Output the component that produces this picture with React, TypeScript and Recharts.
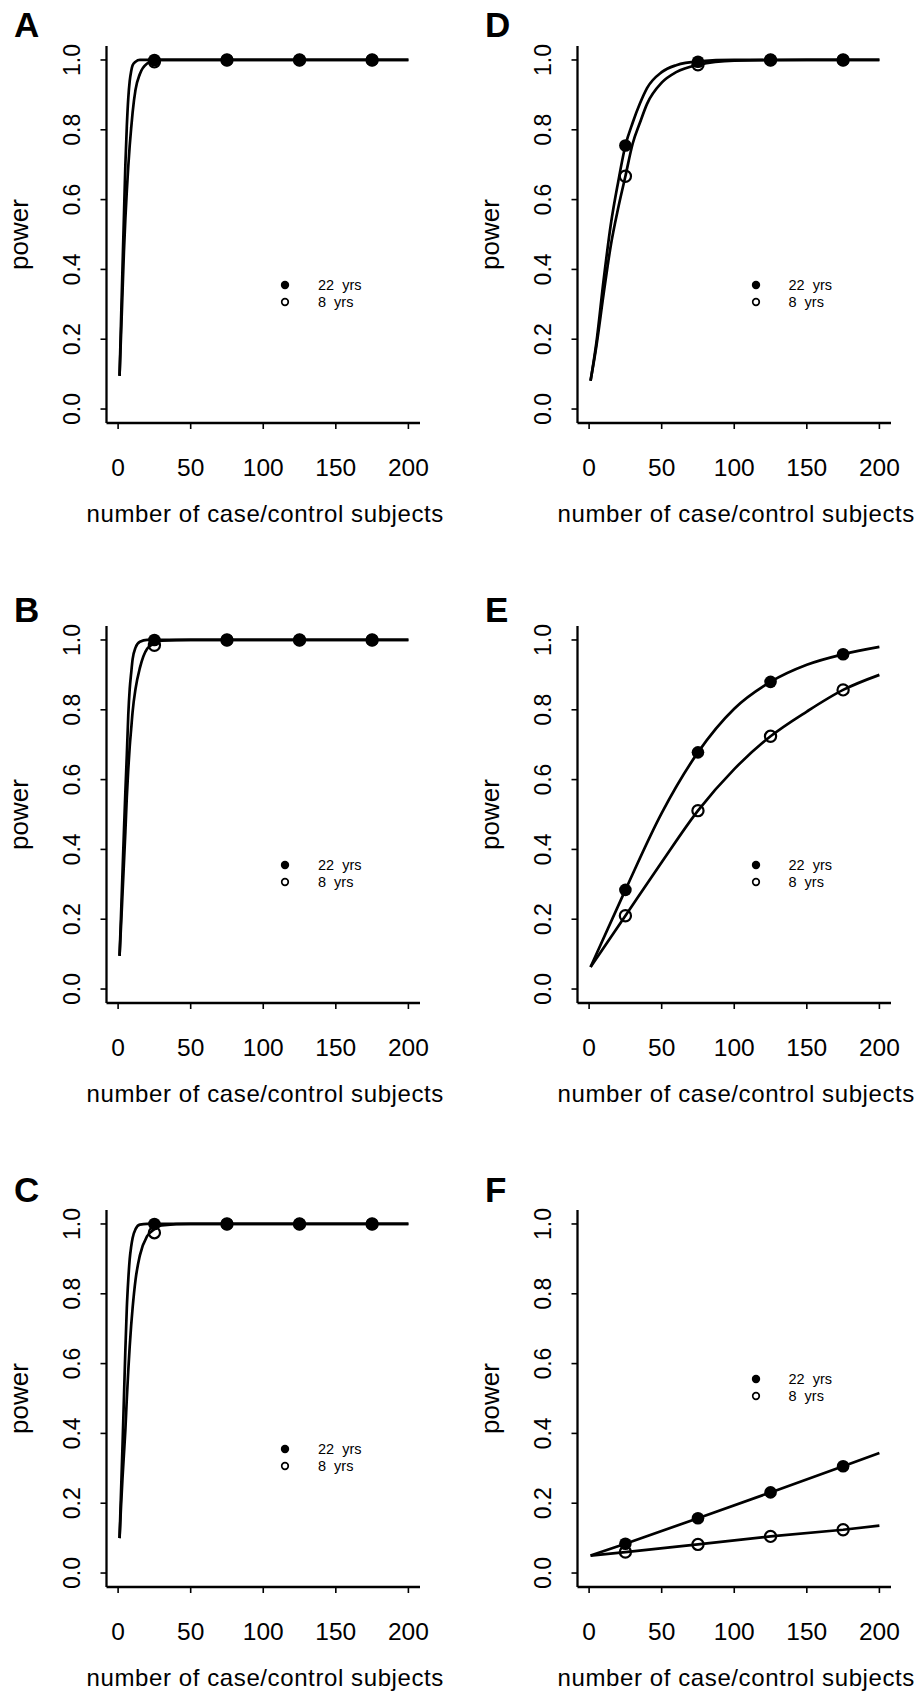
import { ComposedChart, Line, Scatter, XAxis, YAxis, Legend } from "recharts";

const FONT = '"Liberation Sans", Arial, Helvetica, sans-serif';

const xTicks = [0, 50, 100, 150, 200];
const yTicks = [0, 0.2, 0.4, 0.6, 0.8, 1];
const pointX = [25, 75, 125, 175];
const seriesNames = ["22  yrs", "8  yrs"];

// A, B, C: fitted curves read on the same grid
const steepX = [1, 2, 3, 4, 5, 6, 7, 8, 9, 10, 12, 15, 20, 25, 30, 50, 200];

const curveA22 = [0.095, 0.25, 0.4, 0.55, 0.7, 0.81, 0.89, 0.94, 0.968, 0.985, 0.995, 1, 1, 1, 1, 1, 1];
const curveA8 = [0.095, 0.21, 0.33, 0.45, 0.545, 0.625, 0.695, 0.755, 0.805, 0.85, 0.915, 0.96, 0.99, 0.998, 1, 1, 1];
const pointsA22 = [1, 1, 1, 1];
const pointsA8 = [0.995, 1, 1, 1];

const curveB22 = [0.095, 0.21, 0.33, 0.45, 0.565, 0.67, 0.785, 0.86, 0.905, 0.945, 0.978, 0.995, 1, 1, 1, 1, 1];
const curveB8 = [0.095, 0.18, 0.27, 0.36, 0.45, 0.55, 0.63, 0.695, 0.745, 0.795, 0.86, 0.92, 0.975, 0.99, 0.998, 1, 1];
const pointsB22 = [1, 1, 1, 1];
const pointsB8 = [0.985, 1, 1, 1];

const curveC22 = [0.1, 0.23, 0.36, 0.5, 0.64, 0.76, 0.84, 0.9, 0.935, 0.96, 0.985, 0.998, 1, 1, 1, 1, 1];
const curveC8 = [0.1, 0.19, 0.27, 0.34, 0.41, 0.5, 0.58, 0.65, 0.71, 0.76, 0.84, 0.91, 0.965, 0.985, 0.996, 1, 1];
const pointsC22 = [1, 1, 1, 1];
const pointsC8 = [0.975, 1, 1, 1];

const curveDX = [1, 5, 10, 15, 20, 25, 30, 35, 40, 50, 60, 75, 100, 150, 200];
const curveD22 = [0.081, 0.19, 0.37, 0.53, 0.65, 0.755, 0.82, 0.875, 0.92, 0.965, 0.985, 0.996, 1, 1, 1];
const curveD8 = [0.081, 0.18, 0.33, 0.47, 0.575, 0.667, 0.76, 0.82, 0.875, 0.935, 0.965, 0.986, 0.998, 1, 1];
const pointsD22 = [0.755, 0.995, 1, 1];
const pointsD8 = [0.667, 0.986, 1, 1];

const curveEX = [1, 25, 50, 75, 100, 125, 150, 175, 200];
const curveE22 = [0.063, 0.284, 0.504, 0.678, 0.803, 0.88, 0.929, 0.959, 0.98];
const curveE8 = [0.063, 0.21, 0.363, 0.511, 0.63, 0.724, 0.795, 0.857, 0.9];
const pointsE22 = [0.284, 0.678, 0.88, 0.959];
const pointsE8 = [0.21, 0.511, 0.724, 0.857];

const curveFX = [1, 25, 75, 125, 175, 200];
const curveF22 = [0.05, 0.084, 0.157, 0.231, 0.306, 0.344];
const curveF8 = [0.05, 0.06, 0.082, 0.105, 0.124, 0.136];
const pointsF22 = [0.084, 0.157, 0.231, 0.306];
const pointsF8 = [0.06, 0.082, 0.105, 0.124];

const toRows = (xs: number[], ys: number[]) => xs.map((x, i) => ({ x, y: ys[i] }));

// layout of one panel
const CHART_W = 460;
const MARGIN_TOP = 46;
const MARGIN_RIGHT = 40;
const Y_AXIS_W = 106.5;
const PLOT_H = 377;

type CurveType = "monotone" | "natural" | "linear";

const panels: {
  id: string; left: number; top: number; height: number; titleY: number; legendTop: number;
  curve: CurveType; cx: number[]; c22: number[]; c8: number[]; p22: number[]; p8: number[];
}[] = [
  { id: "A", left: 0, top: 0, height: 560, titleY: 37, legendTop: 276.5, curve: "monotone", cx: steepX, c22: curveA22, c8: curveA8, p22: pointsA22, p8: pointsA8 },
  { id: "B", left: 0, top: 580, height: 560, titleY: 42, legendTop: 276.5, curve: "monotone", cx: steepX, c22: curveB22, c8: curveB8, p22: pointsB22, p8: pointsB8 },
  { id: "C", left: 0, top: 1164, height: 528, titleY: 38, legendTop: 276, curve: "monotone", cx: steepX, c22: curveC22, c8: curveC8, p22: pointsC22, p8: pointsC8 },
  { id: "D", left: 470.5, top: 0, height: 560, titleY: 37, legendTop: 276.5, curve: "monotone", cx: curveDX, c22: curveD22, c8: curveD8, p22: pointsD22, p8: pointsD8 },
  { id: "E", left: 470.5, top: 580, height: 560, titleY: 42, legendTop: 276.5, curve: "monotone", cx: curveEX, c22: curveE22, c8: curveE8, p22: pointsE22, p8: pointsE8 },
  { id: "F", left: 470.5, top: 1164, height: 528, titleY: 38, legendTop: 206.5, curve: "linear", cx: curveFX, c22: curveF22, c8: curveF8, p22: pointsF22, p8: pointsF8 },
];

function XTick(props: any) {
  const { x, y, payload } = props;
  return (
    <text x={x} y={y + 44.5} textAnchor="middle" fontFamily={FONT} fontSize={24.5} fill="#000">
      {payload.value}
    </text>
  );
}

function YTick(props: any) {
  const { x, y, payload } = props;
  return (
    <text
      transform={`translate(${x - 19}, ${y}) rotate(-90)`}
      textAnchor="middle"
      fontFamily={FONT}
      fontSize={23}
      fill="#000"
    >
      {Number(payload.value).toFixed(1)}
    </text>
  );
}

const FilledDot = (props: any) => <circle cx={props.cx} cy={props.cy} r={6.3} fill="#000" />;
const OpenDot = (props: any) => (
  <circle cx={props.cx} cy={props.cy} r={5.6} fill="none" stroke="#000" strokeWidth={2.2} />
);

function LegendBox() {
  return (
    <div style={{ fontFamily: FONT, fontSize: 14.5, color: "#000" }}>
      {seriesNames.map((name, i) => (
        <div key={name} style={{ display: "flex", alignItems: "center", height: 17 }}>
          <svg width={10} height={10} style={{ display: "block" }}>
            {i === 0 ? (
              <circle cx={5} cy={5} r={4.2} fill="#000" />
            ) : (
              <circle cx={5} cy={5} r={3.3} fill="none" stroke="#000" strokeWidth={1.7} />
            )}
          </svg>
          <span style={{ marginLeft: 28, whiteSpace: "pre" }}>{name}</span>
        </div>
      ))}
    </div>
  );
}

function Panel({ p }: { p: (typeof panels)[number] }) {
  const xAxisH = p.height - MARGIN_TOP - PLOT_H;
  const plotW = CHART_W - MARGIN_RIGHT - Y_AXIS_W;

  const yLabel = () => (
    <g>
      <text x={14} y={p.titleY} fontFamily={FONT} fontSize={35} fontWeight={700} fill="#000">
        {p.id}
      </text>
      <text
        transform={`translate(28, ${MARGIN_TOP + PLOT_H / 2}) rotate(-90)`}
        textAnchor="middle"
        fontFamily={FONT}
        fontSize={26}
        fill="#000"
      >
        power
      </text>
    </g>
  );

  const xLabel = () => (
    <text
      x={Y_AXIS_W + plotW / 2 + 2}
      y={MARGIN_TOP + PLOT_H + 99}
      textAnchor="middle"
      fontFamily={FONT}
      fontSize={24}
      letterSpacing={0.6}
      fill="#000"
    >
      number of case/control subjects
    </text>
  );

  return (
    <div style={{ position: "absolute", left: p.left, top: p.top }}>
      <ComposedChart
        width={CHART_W}
        height={p.height}
        margin={{ top: MARGIN_TOP, right: MARGIN_RIGHT, left: 0, bottom: 0 }}
      >
        <XAxis
          dataKey="x"
          type="number"
          domain={[-8, 208]}
          ticks={xTicks}
          allowDataOverflow
          height={xAxisH}
          axisLine={{ stroke: "#000", strokeWidth: 2.3 }}
          tickLine={{ stroke: "#000", strokeWidth: 1.6 }}
          tickSize={6}
          tick={<XTick />}
          label={xLabel}
        />
        <YAxis
          dataKey="y"
          type="number"
          domain={[-0.04, 1.04]}
          ticks={yTicks}
          allowDataOverflow
          width={Y_AXIS_W}
          axisLine={{ stroke: "#000", strokeWidth: 2.3 }}
          tickLine={{ stroke: "#000", strokeWidth: 1.6 }}
          tickSize={6}
          tick={<YTick />}
          label={yLabel}
        />
        <Legend
          layout="vertical"
          align="center"
          verticalAlign="middle"
          content={<LegendBox />}
          wrapperStyle={{ left: 280, top: p.legendTop, width: 130 }}
        />
        <Line
          data={toRows(p.cx, p.c22)}
          dataKey="y"
          name="22 yrs"
          type={p.curve}
          stroke="#000"
          strokeWidth={2.7}
          dot={false}
          activeDot={false}
          isAnimationActive={false}
        />
        <Line
          data={toRows(p.cx, p.c8)}
          dataKey="y"
          name="8 yrs"
          type={p.curve}
          stroke="#000"
          strokeWidth={2.7}
          dot={false}
          activeDot={false}
          isAnimationActive={false}
        />
        <Scatter data={toRows(pointX, p.p22)} shape={<FilledDot />} isAnimationActive={false} />
        <Scatter data={toRows(pointX, p.p8)} shape={<OpenDot />} isAnimationActive={false} />
      </ComposedChart>
    </div>
  );
}

export default function App() {
  return (
    <div
      style={{
        position: "absolute",
        left: 0,
        top: 0,
        width: 921,
        height: 1692,
        background: "#fff",
        overflow: "hidden",
      }}
    >
      {panels.map((p) => (
        <Panel key={p.id} p={p} />
      ))}
    </div>
  );
}
